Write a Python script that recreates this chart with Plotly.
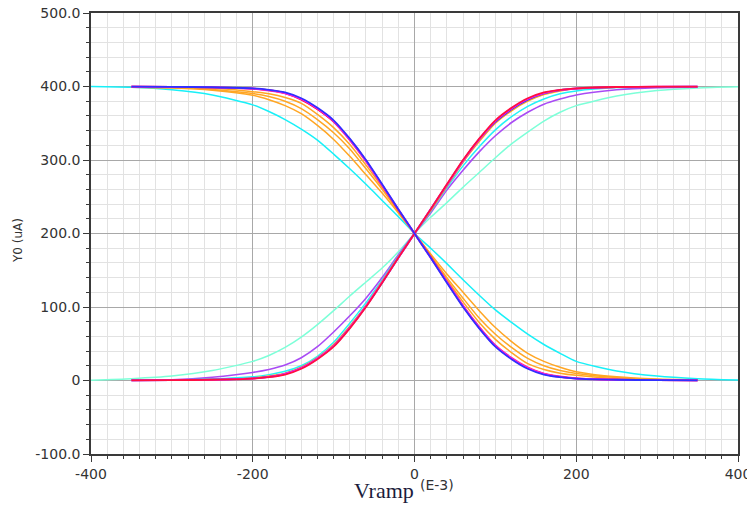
import plotly.graph_objects as go

# ---------------- data ----------------
x_short = [-350, -300, -250, -200, -180, -160, -140, -120, -100, -80, -60, -40, -20,
           0, 20, 40, 60, 80, 100, 120, 140, 160, 180, 200, 250, 300, 350]
x_long = [-400, -350, -300, -250, -200, -180, -160, -140, -120, -100, -80, -60, -40, -20,
          0, 20, 40, 60, 80, 100, 120, 140, 160, 180, 200, 250, 300, 350, 400]

# rising family
rise_red = [0.2, 0.4, 1.0, 2.5, 4.5, 8, 16, 29, 46, 71, 100, 133, 167,
            200, 233, 267, 300, 329, 354, 371, 384, 392, 395.5, 397.5, 399.3, 399.7, 399.8]
rise_magenta = [0.2, 0.4, 1.0, 2.7, 5, 9, 17, 30, 47, 72, 101, 134, 167,
                200, 233, 266, 299, 328, 353, 370, 383, 391, 395, 397.3, 399.2, 399.7, 399.8]
rise_blue = [0.2, 0.4, 1.1, 2.8, 5, 9, 17, 30, 47, 72, 101, 133, 167,
             200, 233, 266, 299, 328, 352, 369, 382, 390.5, 395, 397, 399.1, 399.6, 399.8]
rise_orange = [0.2, 0.5, 1.2, 3.5, 6, 10, 18, 31, 49, 74, 102, 135, 168,
               200, 231, 264, 297, 325, 350, 367, 380, 389, 394, 397, 399, 399.7, 399.8]
rise_cyan = [0.3, 0.8, 2.0, 5, 8, 12.5, 20, 33, 52, 78, 106, 137, 169,
             200, 230, 262, 292, 318, 341, 359, 373, 383, 390, 394, 398.5, 399.5, 399.8]
rise_purple = [0.3, 1.0, 4.5, 11, 15, 21, 31, 46, 66, 88, 112, 140, 171,
               200, 228, 259, 286, 311, 333, 351, 365, 376, 383, 388.5, 395.5, 398.5, 399.5]
rise_aqua = [0.5, 2.5, 6, 13.5, 26, 34, 45, 59, 76, 95, 115, 134, 153, 175,
             200, 222, 242, 263, 283, 303, 322, 338, 353, 365, 374, 387, 394.5, 398, 399.5]

# falling family
fall_blue = [399.8, 399.6, 399.0, 397.5, 395.5, 392, 384, 371, 354, 329, 300, 267, 233,
             200, 167, 133, 100, 71, 46, 29, 16, 8, 4.5, 2.5, 1.0, 0.4, 0.2]
fall_magenta = [399.8, 399.6, 398.9, 397.3, 395, 391, 383, 370, 353, 328, 299, 266, 233,
                200, 167, 134, 101, 72, 47, 30, 17, 9, 5, 2.7, 1.0, 0.4, 0.2]
fall_red = [399.8, 399.6, 398.9, 397.2, 395, 391, 382.5, 369.5, 352.5, 328, 299, 266, 232,
            200, 168, 134, 101, 72, 47, 30, 17, 9, 5, 2.8, 1.1, 0.4, 0.2]
fall_pink = [399.8, 399.6, 398.8, 397, 394.5, 390.5, 382, 369, 352, 327, 298, 265, 232,
             200, 168, 135, 102, 73, 48, 31, 18, 9.5, 5.5, 3, 1.1, 0.5, 0.2]
fall_orange1 = [399.5, 399, 397.5, 393, 390, 385, 377, 362, 344, 321, 293, 263, 232,
                200, 168, 137, 107, 79, 56, 38, 23, 15, 10, 7, 2.5, 1.0, 0.5]
fall_orange2 = [399.3, 398.5, 396, 390.5, 386.5, 380, 370, 355, 337, 315, 288, 260, 230,
                200, 170, 140, 112, 85, 63, 45, 30, 20, 13.5, 9.5, 4, 1.5, 0.7]
fall_orange3 = [399, 398, 395, 388, 382, 374, 363, 347, 328, 305, 280, 255, 228,
                200, 172, 145, 120, 95, 72, 53, 37, 26, 18, 12, 5, 2, 1]
fall_cyan = [400, 399, 395.5, 388.5, 375, 366, 355, 342, 327, 308, 288, 267, 245, 223,
             200, 180, 159, 137, 116, 96, 79, 63, 49, 37, 26, 13, 6, 2.5, 0.7]

y_tick_vals = [-100, 0, 100, 200, 300, 400, 500]
y_tick_text = ["-100.0", "0", "100.0", "200.0", "300.0", "400.0", "500.0"]
x_tick_vals = [-400, -200, 0, 200, 400]
x_tick_text = ["-400", "-200", "0", "200", "400"]

# ---------------- figure ----------------
series = [
    (x_long, rise_aqua, "#7dffd8", 1.5),
    (x_short, rise_purple, "#a94bf5", 1.6),
    (x_short, rise_cyan, "#22f2f8", 1.5),
    (x_short, rise_orange, "#ffa81a", 1.5),
    (x_short, rise_blue, "#2828ff", 1.8),
    (x_short, rise_magenta, "#ff20ff", 1.8),
    (x_short, rise_red, "#ff1040", 1.8),
    (x_long, fall_cyan, "#18f0f8", 1.5),
    (x_short, fall_orange3, "#ffa624", 1.5),
    (x_short, fall_orange2, "#ffa624", 1.5),
    (x_short, fall_orange1, "#ffa624", 1.5),
    (x_short, fall_pink, "#ff3aa0", 1.8),
    (x_short, fall_red, "#ff1030", 1.8),
    (x_short, fall_magenta, "#ff22ff", 1.8),
    (x_short, fall_blue, "#3030ff", 1.8),
]

fig = go.Figure()
for xs, ys, col, w in series:
    fig.add_trace(go.Scatter(x=xs, y=ys, mode="lines",
                             line=dict(color=col, width=w, shape="spline", smoothing=0.6),
                             showlegend=False, hoverinfo="skip"))

axis_common = dict(
    showline=True, linecolor="#3a3a3a", linewidth=1.5, mirror=True,
    showgrid=True, gridcolor="#a8a8a8", gridwidth=1, automargin=False,
    ticklabeloverflow="allow",
    zeroline=False, ticks="outside", ticklen=6, tickcolor="#3a3a3a", tickwidth=1,
    tickfont=dict(family="DejaVu Sans", size=14, color="#333333"),
)

# the page body adds an 8px offset, so the figure is sized to compensate
fig.update_layout(
    width=747, height=498,
    margin=dict(l=83, r=17, t=5, b=52),
    paper_bgcolor="white", plot_bgcolor="white",
    xaxis=dict(range=[-400, 400], tickmode="array", tickvals=x_tick_vals, ticktext=x_tick_text,
               minor=dict(dtick=20, tick0=0, showgrid=True, gridcolor="#e2e2e2", gridwidth=1,
                          ticks="outside", ticklen=3, tickcolor="#3a3a3a"),
               **axis_common),
    yaxis=dict(range=[-100, 500], tickmode="array", tickvals=y_tick_vals, ticktext=y_tick_text,
               minor=dict(dtick=20, tick0=0, showgrid=True, gridcolor="#e2e2e2", gridwidth=1,
                          ticks="outside", ticklen=3, tickcolor="#3a3a3a"),
               **axis_common),
    annotations=[
        dict(text="Y0 (uA)", xref="paper", yref="paper", x=-0.113, y=0.485, textangle=-90,
             xanchor="center", yanchor="middle", showarrow=False,
             font=dict(family="DejaVu Sans", size=12, color="#333333")),
        dict(text="Vramp", xref="x", yref="paper", x=2, y=-0.082, xanchor="right", yanchor="middle",
             showarrow=False, font=dict(family="Liberation Serif", size=22, color="#1c1c3c")),
        dict(text="(E-3)", xref="x", yref="paper", x=4, y=-0.070, xanchor="left", yanchor="middle",
             showarrow=False, font=dict(family="DejaVu Sans", size=14, color="#333333")),
    ],
)

fig.write_html("out.html")
